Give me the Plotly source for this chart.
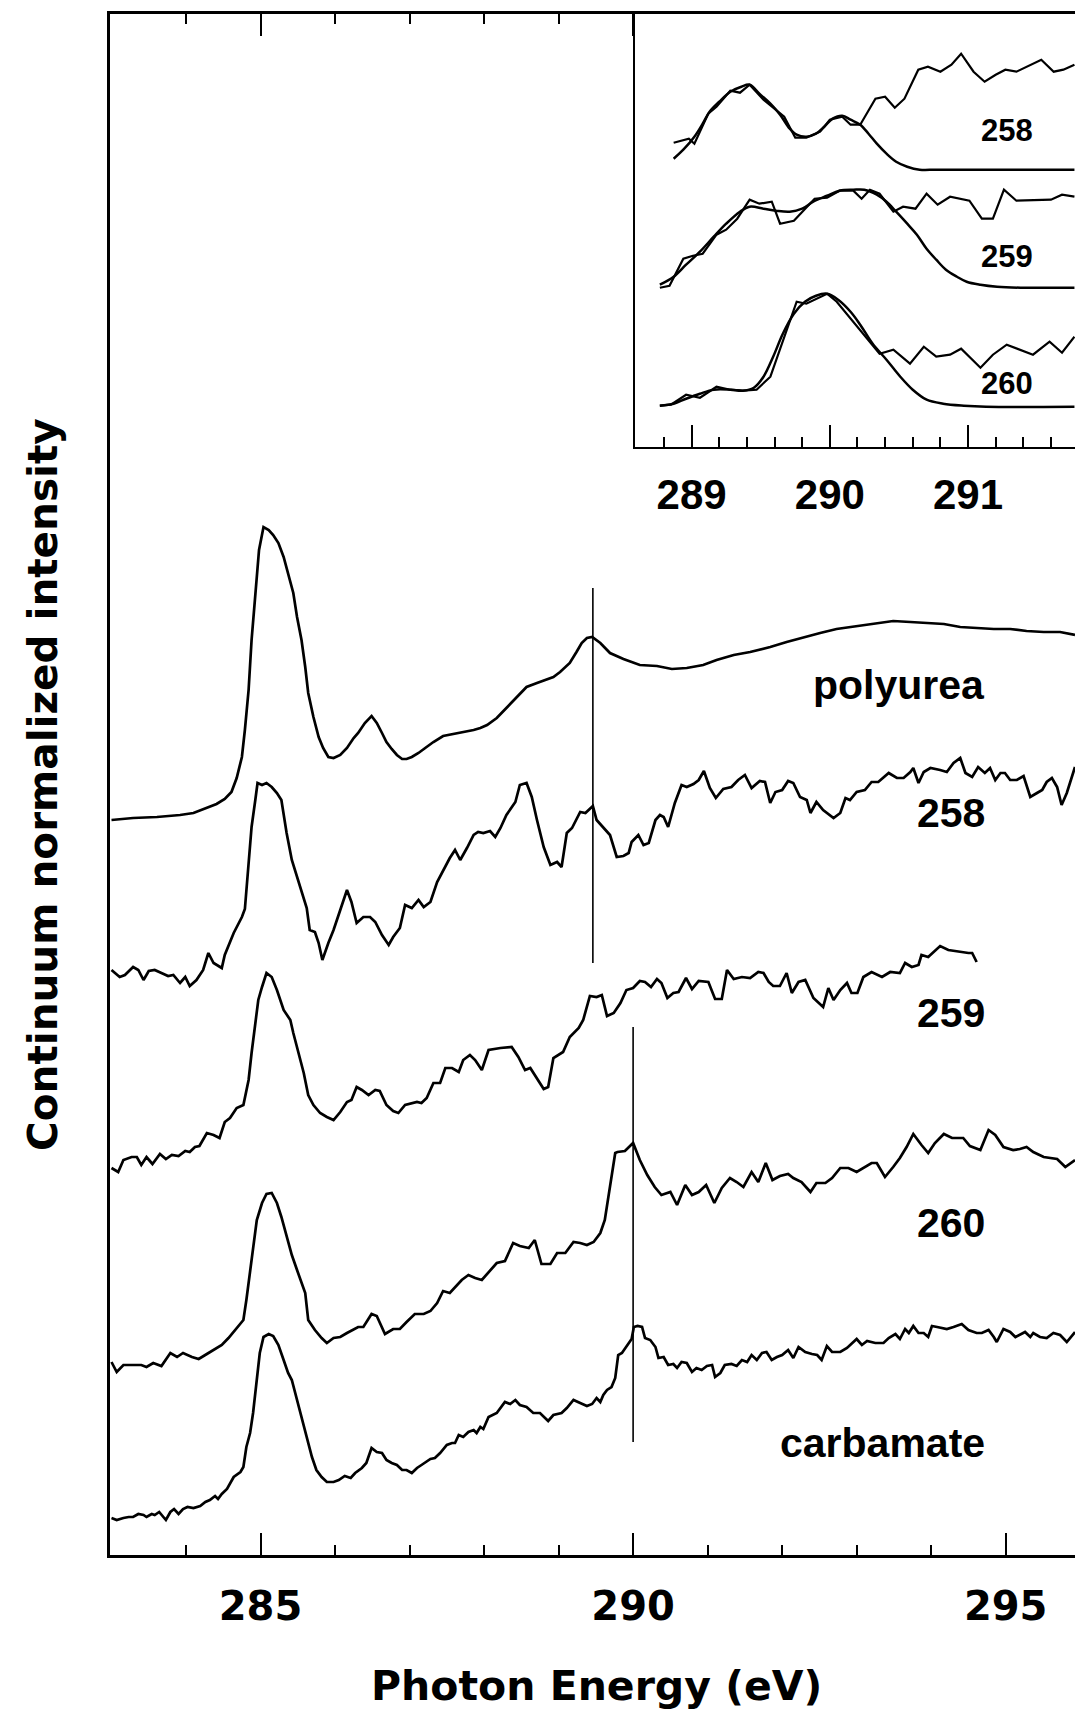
import plotly.graph_objects as go

# ---------------- main panel data (photon energy in eV, offset intensity) ----------------
polyurea_E = [283.00, 283.29, 283.61, 283.92, 284.10, 284.28, 284.41, 284.52, 284.61, 284.68,
              284.75, 284.79, 284.84, 284.88, 284.91, 284.95, 284.98, 285.04, 285.11, 285.17,
              285.24, 285.31, 285.37, 285.44, 285.49, 285.55, 285.60, 285.64, 285.71, 285.78,
              285.84, 285.91, 285.98, 286.07, 286.16, 286.25, 286.31, 286.40, 286.49, 286.56,
              286.63, 286.69, 286.76, 286.83, 286.90, 286.96, 287.03, 287.12, 287.21, 287.32,
              287.45, 287.59, 287.72, 287.86, 287.95, 288.04, 288.17, 288.30, 288.44, 288.57,
              288.71, 288.84, 288.93, 289.02, 289.15, 289.24, 289.31, 289.38, 289.45, 289.56,
              289.69, 289.87, 290.09, 290.32, 290.52, 290.72, 290.94, 291.12, 291.35, 291.57,
              291.84, 292.06, 292.29, 292.51, 292.73, 292.91, 293.14, 293.32, 293.49, 293.72,
              293.94, 294.17, 294.39, 294.61, 294.84, 295.06, 295.28, 295.51, 295.73, 295.93]
polyurea_I = [7.35, 7.37, 7.38, 7.40, 7.42, 7.47, 7.51, 7.56, 7.63, 7.77,
              7.98, 8.25, 8.65, 9.15, 9.45, 9.85, 10.05, 10.28, 10.25, 10.20,
              10.12, 9.98, 9.82, 9.62, 9.38, 9.15, 8.88, 8.62, 8.38, 8.18,
              8.07, 7.98, 7.97, 8.00, 8.07, 8.17, 8.22, 8.32, 8.39, 8.32,
              8.22, 8.13, 8.06, 8.00, 7.96, 7.96, 7.98, 8.02, 8.07, 8.13,
              8.19, 8.21, 8.23, 8.25, 8.27, 8.30, 8.37, 8.47, 8.58, 8.68,
              8.72, 8.76, 8.78, 8.83, 8.92, 9.03, 9.12, 9.17, 9.18, 9.12,
              9.02, 8.96, 8.90, 8.89, 8.86, 8.87, 8.90, 8.95, 9.00, 9.03,
              9.08, 9.13, 9.18, 9.22, 9.26, 9.28, 9.30, 9.32, 9.34, 9.33,
              9.32, 9.31, 9.28, 9.27, 9.26, 9.26, 9.24, 9.23, 9.23, 9.20]

s258_E = [283.00, 283.11, 283.18, 283.29, 283.36, 283.43, 283.50, 283.58, 283.67, 283.76,
          283.83, 283.92, 283.99, 284.05, 284.14, 284.23, 284.30, 284.37, 284.48, 284.52,
          284.64, 284.75, 284.79, 284.84, 284.88, 284.93, 284.96, 285.02, 285.08, 285.15,
          285.22, 285.28, 285.35, 285.42, 285.49, 285.55, 285.62, 285.66, 285.73, 285.78,
          285.83, 285.91, 285.98, 286.07, 286.16, 286.22, 286.29, 286.38, 286.47, 286.54,
          286.63, 286.72, 286.78, 286.87, 286.94, 287.03, 287.12, 287.19, 287.28, 287.37,
          287.45, 287.54, 287.61, 287.68, 287.77, 287.86, 287.92, 287.99, 288.08, 288.15,
          288.22, 288.30, 288.42, 288.48, 288.57, 288.64, 288.71, 288.80, 288.89, 288.98,
          289.04, 289.11, 289.18, 289.29, 289.36, 289.42, 289.46,
          289.51, 289.60, 289.69, 289.78, 289.87, 289.94, 289.98, 290.07, 290.14, 290.21,
          290.30, 290.36, 290.41, 290.47, 290.56, 290.65, 290.72, 290.81, 290.88, 290.95,
          291.03, 291.11, 291.21, 291.32, 291.41, 291.50, 291.59, 291.70, 291.77, 291.84,
          291.91, 292.00, 292.08, 292.15, 292.24, 292.33, 292.38, 292.46, 292.55, 292.69,
          292.78, 292.85, 292.91, 293.00, 293.11, 293.20, 293.29, 293.43, 293.54, 293.63,
          293.72, 293.76, 293.83, 293.90, 293.99, 294.12, 294.21, 294.30, 294.39, 294.46,
          294.55, 294.63, 294.72, 294.79, 294.86, 294.93, 294.99, 295.06, 295.15, 295.24,
          295.33, 295.42, 295.49, 295.55, 295.62, 295.69, 295.75, 295.82, 295.93]
s258_I = [5.85, 5.78, 5.80, 5.88, 5.85, 5.75, 5.84, 5.85, 5.82, 5.79,
          5.80, 5.72, 5.78, 5.69, 5.75, 5.85, 6.02, 5.92, 5.87, 6.00,
          6.22, 6.38, 6.46, 6.88, 7.28, 7.55, 7.72, 7.70, 7.72, 7.68,
          7.62, 7.55, 7.22, 6.95, 6.78, 6.65, 6.47, 6.25, 6.23, 6.12,
          5.95, 6.12, 6.25, 6.45, 6.65, 6.53, 6.32, 6.38, 6.38, 6.33,
          6.20, 6.10, 6.18, 6.27, 6.50, 6.47, 6.55, 6.48, 6.53, 6.73,
          6.85, 6.97, 7.05, 6.95, 7.07, 7.20, 7.23, 7.22, 7.24, 7.18,
          7.27, 7.40, 7.53, 7.70, 7.72, 7.58, 7.35, 7.08, 6.90, 6.93,
          6.88, 7.22, 7.27, 7.43, 7.42, 7.46, 7.49,
          7.35, 7.27, 7.20, 6.98, 6.99, 7.02, 7.13, 7.20, 7.10, 7.12,
          7.35, 7.40, 7.38, 7.28, 7.52, 7.70, 7.68, 7.71, 7.75, 7.84,
          7.67, 7.57, 7.66, 7.68, 7.75, 7.80, 7.67, 7.74, 7.73, 7.52,
          7.63, 7.65, 7.74, 7.72, 7.58, 7.55, 7.42, 7.53, 7.45, 7.37,
          7.42, 7.57, 7.55, 7.63, 7.65, 7.73, 7.73, 7.82, 7.77, 7.77,
          7.83, 7.87, 7.72, 7.83, 7.87, 7.85, 7.83, 7.92, 7.97, 7.82,
          7.78, 7.88, 7.82, 7.87, 7.75, 7.82, 7.82, 7.75, 7.75, 7.79,
          7.58, 7.62, 7.65, 7.73, 7.77, 7.68, 7.50, 7.62, 7.88]

s259_E = [283.00, 283.09, 283.16, 283.27, 283.34, 283.40, 283.47, 283.55, 283.65, 283.73,
          283.81, 283.90, 283.99, 284.05, 284.12, 284.18, 284.28, 284.37, 284.45, 284.52,
          284.59, 284.68, 284.77, 284.84, 284.88, 284.93, 284.97, 285.02, 285.08, 285.15,
          285.22, 285.31, 285.40, 285.44, 285.51, 285.58, 285.64, 285.71, 285.80, 285.89,
          285.98, 286.07, 286.16, 286.22, 286.29, 286.36, 286.45, 286.54, 286.60, 286.69,
          286.78, 286.85, 286.94, 287.03, 287.10, 287.16, 287.23, 287.32, 287.41, 287.48,
          287.57, 287.66, 287.72, 287.81, 287.88, 287.97, 288.06, 288.22, 288.37, 288.46,
          288.55, 288.62, 288.71, 288.80, 288.86, 288.93, 289.06, 289.15, 289.27, 289.33,
          289.42, 289.51, 289.58, 289.65, 289.74, 289.83,
          289.91, 290.00, 290.09, 290.16, 290.24, 290.32, 290.38, 290.46, 290.54, 290.61,
          290.71, 290.79, 290.88, 291.01, 291.10, 291.19, 291.26, 291.35, 291.46, 291.57,
          291.68, 291.75, 291.82, 291.88, 291.97, 292.06, 292.13, 292.22, 292.31, 292.42,
          292.55, 292.62, 292.69, 292.78, 292.87, 292.93, 293.01, 293.09, 293.20, 293.34,
          293.45, 293.58, 293.65, 293.74, 293.83, 293.87, 293.96, 294.12, 294.23, 294.39,
          294.50, 294.55, 294.61]
s259_I = [3.87, 3.83, 3.95, 3.98, 3.98, 3.90, 3.98, 3.91, 4.01, 3.96,
          4.00, 3.99, 4.04, 4.03, 4.08, 4.09, 4.22, 4.20, 4.17, 4.33,
          4.37, 4.47, 4.50, 4.75, 5.02, 5.32, 5.55, 5.68, 5.82, 5.78,
          5.65, 5.45, 5.35, 5.22, 5.02, 4.82, 4.60, 4.50, 4.42, 4.38,
          4.35, 4.43, 4.53, 4.55, 4.68, 4.65, 4.60, 4.65, 4.64, 4.50,
          4.44, 4.42, 4.50, 4.52, 4.53, 4.52, 4.57, 4.72, 4.72, 4.87,
          4.87, 4.83, 4.95, 5.00, 4.95, 4.85, 5.05, 5.07, 5.08, 4.98,
          4.85, 4.87, 4.77, 4.66, 4.68, 4.97, 5.03, 5.18, 5.27, 5.35,
          5.59, 5.58, 5.60, 5.39, 5.42, 5.52,
          5.65, 5.67, 5.74, 5.73, 5.68, 5.76, 5.72, 5.57, 5.62, 5.63,
          5.77, 5.66, 5.74, 5.73, 5.56, 5.56, 5.85, 5.76, 5.78, 5.77,
          5.83, 5.82, 5.73, 5.69, 5.69, 5.82, 5.62, 5.73, 5.75, 5.57,
          5.48, 5.67, 5.55, 5.65, 5.72, 5.62, 5.62, 5.78, 5.83, 5.78,
          5.83, 5.82, 5.92, 5.88, 5.90, 6.00, 5.98, 6.09, 6.05, 6.03,
          6.02, 6.02, 5.93]

s260_E = [283.00, 283.07, 283.16, 283.29, 283.40, 283.47, 283.56, 283.67, 283.79, 283.88,
          283.96, 284.08, 284.17, 284.28, 284.39, 284.48, 284.57, 284.66, 284.77, 284.81,
          284.86, 284.90, 284.95, 285.02, 285.08, 285.15, 285.22, 285.28, 285.35, 285.42,
          285.49, 285.55, 285.60, 285.64, 285.73, 285.82, 285.89, 285.98, 286.07, 286.16,
          286.25, 286.31, 286.38, 286.42, 286.49, 286.56, 286.67, 286.78, 286.87, 286.96,
          287.07, 287.19, 287.28, 287.37, 287.45, 287.54, 287.61, 287.70, 287.79, 287.88,
          287.97, 288.06, 288.17, 288.28, 288.39, 288.48, 288.60, 288.68, 288.77, 288.89,
          288.98, 289.09, 289.20, 289.29, 289.38, 289.47, 289.56, 289.62, 289.69, 289.76,
          289.79, 289.89, 290.00, 290.09, 290.19, 290.29, 290.38, 290.50, 290.59, 290.70,
          290.79, 290.88, 290.98, 291.09, 291.19, 291.30, 291.39, 291.48, 291.59, 291.68,
          291.78, 291.87, 291.97, 292.08, 292.15, 292.26, 292.38, 292.46, 292.58, 292.67,
          292.78, 292.89, 293.00, 293.11, 293.20, 293.27, 293.38, 293.49, 293.58, 293.67,
          293.76, 293.87, 293.96, 294.05, 294.17, 294.28, 294.43, 294.52, 294.66, 294.77,
          294.86, 294.97, 295.10, 295.19, 295.28, 295.37, 295.51, 295.69, 295.80, 295.93]
s260_I = [1.93, 1.83, 1.90, 1.90, 1.90, 1.88, 1.92, 1.89, 2.02, 1.98,
          2.02, 1.98, 1.96, 2.01, 2.06, 2.10, 2.17, 2.25, 2.35, 2.55,
          2.82, 3.08, 3.35, 3.52, 3.61, 3.62, 3.52, 3.38, 3.18, 3.00,
          2.85, 2.72, 2.62, 2.35, 2.25, 2.17, 2.12, 2.17, 2.18, 2.22,
          2.26, 2.28, 2.28, 2.33, 2.41, 2.39, 2.21, 2.26, 2.26, 2.33,
          2.41, 2.41, 2.44, 2.52, 2.64, 2.62, 2.68, 2.75, 2.80, 2.77,
          2.75, 2.83, 2.92, 2.94, 3.12, 3.09, 3.07, 3.15, 2.91, 2.91,
          3.02, 3.02, 3.13, 3.12, 3.10, 3.13, 3.22, 3.35, 3.68, 4.02,
          4.03, 4.04, 4.12, 3.95, 3.80, 3.68, 3.60, 3.63, 3.50, 3.70,
          3.60, 3.63, 3.70, 3.52, 3.67, 3.77, 3.73, 3.68, 3.83, 3.73,
          3.92, 3.75, 3.79, 3.81, 3.77, 3.73, 3.63, 3.72, 3.72, 3.77,
          3.87, 3.87, 3.83, 3.88, 3.92, 3.92, 3.78, 3.88, 3.97, 4.08,
          4.21, 4.10, 4.02, 4.12, 4.21, 4.17, 4.17, 4.09, 4.05, 4.25,
          4.20, 4.08, 4.05, 4.06, 4.08, 4.03, 3.98, 3.96, 3.88, 3.95]

carbamate_E = [283.00, 283.07, 283.16, 283.23, 283.29, 283.36, 283.43, 283.47, 283.54, 283.58,
               283.64, 283.70, 283.73, 283.79, 283.84, 283.90, 283.96, 284.02, 284.10, 284.19,
               284.26, 284.32, 284.39, 284.43, 284.48, 284.55, 284.59, 284.64, 284.73, 284.77,
               284.81, 284.86, 284.90, 284.95, 284.99, 285.04, 285.11, 285.17, 285.24, 285.31,
               285.37, 285.42, 285.49, 285.55, 285.62, 285.69, 285.75, 285.82, 285.89, 285.98,
               286.05, 286.13, 286.21, 286.27, 286.36, 286.42, 286.49, 286.56, 286.63, 286.69,
               286.76, 286.83, 286.90, 286.96, 287.03, 287.10, 287.16, 287.28, 287.34, 287.41,
               287.50, 287.57, 287.61, 287.66, 287.72, 287.79, 287.86, 287.90, 287.95, 287.99,
               288.06, 288.17, 288.28, 288.35, 288.42, 288.48, 288.57, 288.66, 288.75, 288.86,
               288.93, 289.04, 289.11, 289.20, 289.29, 289.38, 289.45, 289.51, 289.56, 289.60,
               289.65, 289.71, 289.76,
               289.80, 289.85, 289.91, 289.98, 290.01, 290.06, 290.12, 290.16, 290.23, 290.30,
               290.34, 290.41, 290.47, 290.54, 290.59, 290.65, 290.72, 290.79, 290.85, 290.92,
               290.99, 291.06, 291.10, 291.17, 291.23, 291.32, 291.39, 291.46, 291.53, 291.59,
               291.66, 291.73, 291.79, 291.86, 291.93, 292.00, 292.08, 292.15, 292.22, 292.31,
               292.40, 292.47, 292.53, 292.60, 292.67, 292.78, 292.87, 292.93, 293.00, 293.07,
               293.14, 293.25, 293.36, 293.43, 293.52, 293.58, 293.65, 293.70, 293.76, 293.83,
               293.90, 293.96, 294.01, 294.08, 294.21, 294.30, 294.41, 294.50, 294.61, 294.68,
               294.77, 294.84, 294.88, 294.97, 295.06, 295.13, 295.19, 295.26, 295.33, 295.37,
               295.46, 295.55, 295.64, 295.73, 295.82, 295.93]
carbamate_I = [0.37, 0.35, 0.37, 0.38, 0.38, 0.41, 0.40, 0.38, 0.41, 0.40,
               0.43, 0.38, 0.35, 0.43, 0.46, 0.41, 0.46, 0.48, 0.47, 0.49,
               0.53, 0.55, 0.59, 0.56, 0.61, 0.66, 0.72, 0.78, 0.83, 0.88,
               1.08, 1.22, 1.42, 1.72, 2.02, 2.18, 2.21, 2.19, 2.10, 1.95,
               1.82, 1.75, 1.55, 1.38, 1.18, 0.98, 0.85, 0.78, 0.73, 0.73,
               0.75, 0.79, 0.77, 0.82, 0.87, 0.92, 1.07, 1.03, 1.02, 0.95,
               0.92, 0.90, 0.85, 0.85, 0.82, 0.87, 0.90, 0.96, 0.97, 1.02,
               1.10, 1.12, 1.12, 1.20, 1.18, 1.23, 1.25, 1.22, 1.28, 1.26,
               1.38, 1.42, 1.53, 1.51, 1.55, 1.50, 1.48, 1.42, 1.42, 1.34,
               1.40, 1.42, 1.47, 1.55, 1.52, 1.49, 1.51, 1.57, 1.53, 1.60,
               1.65, 1.68, 1.77,
               2.00, 2.02, 2.09, 2.16, 2.28, 2.29, 2.28, 2.17, 2.15, 2.08,
               1.97, 1.98, 1.90, 1.91, 1.87, 1.93, 1.92, 1.83, 1.87, 1.85,
               1.89, 1.90, 1.78, 1.82, 1.90, 1.91, 1.89, 1.95, 1.93, 2.00,
               1.95, 2.02, 2.03, 1.95, 1.98, 2.00, 2.05, 1.97, 2.08, 2.03,
               2.01, 2.00, 1.95, 2.09, 2.03, 2.03, 2.07, 2.11, 2.16, 2.10,
               2.14, 2.12, 2.12, 2.17, 2.21, 2.16, 2.26, 2.22, 2.29, 2.22,
               2.22, 2.18, 2.29, 2.28, 2.26, 2.28, 2.31, 2.25, 2.22, 2.22,
               2.25, 2.18, 2.13, 2.26, 2.23, 2.18, 2.20, 2.23, 2.18, 2.22,
               2.18, 2.17, 2.22, 2.20, 2.13, 2.23]

# marker lines (energy, lower and upper intensity)
marker_E = [289.46, 290.00]
marker_lo = [5.92, 1.13]
marker_hi = [9.67, 5.28]

main_labels = ["polyurea", "258", "259", "260", "carbamate"]
main_label_I = [8.70, 7.42, 5.42, 3.32, 1.12]

main_tick_vals = [285, 290, 295]
main_tick_text = ["285", "290", "295"]
main_minor_vals = [284, 286, 287, 288, 289, 291, 292, 293, 294]

# ---------------- inset data ----------------
in258_E = [288.87, 288.98, 289.02, 289.12, 289.18, 289.28, 289.35, 289.42, 289.52, 289.61,
           289.67, 289.75, 289.83, 289.93, 290.00, 290.09, 290.15, 290.22, 290.33, 290.40,
           290.47, 290.54, 290.64, 290.71, 290.80, 290.88, 290.95, 291.04, 291.12, 291.20,
           291.27, 291.35, 291.45, 291.53, 291.62, 291.69, 291.77]
in258_I = [3.04, 3.08, 3.03, 3.33, 3.40, 3.56, 3.54, 3.62, 3.47, 3.37,
           3.30, 3.09, 3.09, 3.15, 3.27, 3.30, 3.22, 3.22, 3.48, 3.50,
           3.39, 3.48, 3.77, 3.80, 3.75, 3.82, 3.93, 3.75, 3.65, 3.72,
           3.77, 3.75, 3.82, 3.87, 3.75, 3.77, 3.82]
fit258_E = [288.87, 288.94, 289.02, 289.08, 289.13, 289.20, 289.28, 289.36, 289.42, 289.49,
            289.57, 289.64, 289.71, 289.76, 289.83, 289.90, 289.96, 290.02, 290.09, 290.15,
            290.22, 290.28, 290.34, 290.41, 290.48, 290.56, 290.65, 290.77, 291.01, 291.38, 291.77]
fit258_I = [2.88, 2.97, 3.10, 3.23, 3.35, 3.45, 3.55, 3.60, 3.62, 3.53,
            3.43, 3.32, 3.18, 3.12, 3.10, 3.13, 3.20, 3.28, 3.31, 3.27,
            3.22, 3.13, 3.03, 2.93, 2.85, 2.80, 2.77, 2.77, 2.77, 2.77, 2.77]

in259_E = [288.77, 288.84, 288.94, 289.01, 289.08, 289.18, 289.25, 289.33, 289.42, 289.49,
           289.58, 289.64, 289.74, 289.80, 289.89, 289.98, 290.07, 290.17, 290.23, 290.29,
           290.36, 290.46, 290.53, 290.62, 290.70, 290.78, 290.87, 291.01, 291.10, 291.18,
           291.26, 291.35, 291.50, 291.60, 291.68, 291.77]
in259_I = [1.59, 1.61, 1.88, 1.91, 1.93, 2.12, 2.17, 2.28, 2.47, 2.43,
           2.45, 2.23, 2.26, 2.35, 2.48, 2.49, 2.56, 2.56, 2.48, 2.57,
           2.53, 2.35, 2.40, 2.38, 2.53, 2.42, 2.50, 2.46, 2.28, 2.28,
           2.57, 2.46, 2.47, 2.47, 2.52, 2.50]
fit259_E = [288.77, 288.87, 288.96, 289.06, 289.16, 289.25, 289.35, 289.42, 289.52, 289.61,
            289.71, 289.80, 289.88, 289.98, 290.07, 290.17, 290.25, 290.34, 290.41, 290.48,
            290.56, 290.63, 290.70, 290.77, 290.84, 290.92, 290.99, 291.09, 291.21, 291.38, 291.77]
fit259_I = [1.62, 1.70, 1.82, 1.95, 2.10, 2.23, 2.35, 2.40, 2.38, 2.36,
            2.35, 2.38, 2.45, 2.51, 2.56, 2.57, 2.57, 2.52, 2.45, 2.35,
            2.23, 2.12, 1.98, 1.87, 1.77, 1.70, 1.65, 1.62, 1.60, 1.59, 1.59]

in260_E = [288.77, 288.85, 288.96, 289.06, 289.18, 289.28, 289.37, 289.47, 289.57, 289.66,
           289.76, 289.83, 289.90, 289.98, 290.05, 290.15, 290.22, 290.36, 290.46, 290.58,
           290.68, 290.77, 290.87, 290.95, 291.09, 291.18, 291.28, 291.38, 291.47, 291.59,
           291.68, 291.77]
in260_I = [0.41, 0.42, 0.52, 0.49, 0.60, 0.57, 0.56, 0.57, 0.70, 1.05,
           1.45, 1.43, 1.48, 1.53, 1.45, 1.28, 1.17, 0.93, 0.97, 0.83,
           1.00, 0.90, 0.92, 0.98, 0.79, 0.92, 1.02, 0.97, 0.92, 1.05,
           0.94, 1.10]
fit260_E = [288.77, 288.87, 288.96, 289.06, 289.16, 289.28, 289.37, 289.45, 289.52, 289.59,
            289.66, 289.74, 289.82, 289.90, 289.98, 290.06, 290.15, 290.22, 290.31, 290.41,
            290.51, 290.60, 290.70, 290.82, 290.97, 291.13, 291.77]
fit260_I = [0.41, 0.43, 0.48, 0.53, 0.57, 0.57, 0.56, 0.59, 0.70, 0.90,
            1.13, 1.33, 1.45, 1.51, 1.53, 1.47, 1.35, 1.22, 1.03, 0.87,
            0.70, 0.57, 0.47, 0.43, 0.41, 0.40, 0.40]

inset_labels = ["258", "259", "260"]
inset_label_I = [3.16, 1.90, 0.63]
inset_tick_vals = [289, 290, 291]
inset_tick_text = ["289", "290", "291"]
inset_minor_vals = [288.8, 289.2, 289.4, 289.6, 289.8, 290.2, 290.4, 290.6, 290.8,
                    291.2, 291.4, 291.6]

# ---------------- figure ----------------
fig = go.Figure()
main_line = dict(color="black", width=2.7)
for E, I in [(polyurea_E, polyurea_I), (s258_E, s258_I), (s259_E, s259_I),
             (s260_E, s260_I), (carbamate_E, carbamate_I)]:
    fig.add_trace(go.Scatter(x=E, y=I, mode="lines", line=main_line,
                             xaxis="x", yaxis="y", hoverinfo="skip", showlegend=False))

for E, I in [(in258_E, in258_I), (in259_E, in259_I), (in260_E, in260_I)]:
    fig.add_trace(go.Scatter(x=E, y=I, mode="lines", line=dict(color="black", width=2.2),
                             xaxis="x2", yaxis="y2", hoverinfo="skip", showlegend=False))
for E, I in [(fit258_E, fit258_I), (fit259_E, fit259_I), (fit260_E, fit260_I)]:
    fig.add_trace(go.Scatter(x=E, y=I, mode="lines", line=dict(color="black", width=2.5, shape="spline"),
                             xaxis="x2", yaxis="y2", hoverinfo="skip", showlegend=False))

for e, lo, hi in zip(marker_E, marker_lo, marker_hi):
    fig.add_shape(type="line", xref="x", yref="y", x0=e, x1=e, y0=lo, y1=hi,
                  line=dict(color="black", width=1.6))

label_font = dict(family="Liberation Sans, Arial, sans-serif", size=41, color="black", weight="bold")
for txt, yv in zip(main_labels, main_label_I):
    fig.add_annotation(text=txt, x=294.75, y=yv, xref="x", yref="y", xanchor="right",
                       yanchor="middle", showarrow=False, font=label_font)

inset_font = dict(family="Liberation Sans, Arial, sans-serif", size=31, color="black", weight="bold")
for txt, yv in zip(inset_labels, inset_label_I):
    fig.add_annotation(text=txt, x=291.484, y=yv, xref="x2", yref="y2", xanchor="right",
                       yanchor="middle", showarrow=False, font=inset_font)

fig.add_annotation(text="Photon Energy (eV)", x=289.51, y=-0.085, xref="x", yref="paper",
                   xanchor="center", yanchor="middle", showarrow=False,
                   font=dict(family="DejaVu Sans, sans-serif", size=41, color="black", weight="bold"))
fig.add_annotation(text="Continuum normalized intensity", x=-0.070, y=0.500, xref="paper",
                   yref="paper", xanchor="center", yanchor="middle", textangle=-90,
                   showarrow=False,
                   font=dict(family="DejaVu Sans, sans-serif", size=40.5, color="black", weight="bold"))

fig.update_layout(
    width=1075, height=1714,
    margin=dict(l=110, r=0, t=14, b=159, pad=0),
    paper_bgcolor="white", plot_bgcolor="white", showlegend=False,
    xaxis=dict(domain=[0, 1], range=[282.98, 295.93], showgrid=False, zeroline=False,
               showline=True, linecolor="black", linewidth=2.5, mirror="ticks",
               ticks="inside", ticklen=22, tickwidth=2, tickcolor="black",
               tickmode="array", tickvals=main_tick_vals, ticktext=main_tick_text,
               tickfont=dict(family="DejaVu Sans, sans-serif", size=40, color="black", weight="bold"),
               ticklabelstandoff=14,
               minor=dict(tickmode="array", tickvals=main_minor_vals, ticks="inside", ticklen=10,
                          tickwidth=2, tickcolor="black", showgrid=False)),
    yaxis=dict(domain=[0, 1], range=[0, 15.41], showgrid=False, zeroline=False,
               showline=True, linecolor="black", linewidth=2.5, ticks="", showticklabels=False),
    xaxis2=dict(domain=[0.544, 1], anchor="y2", range=[288.59, 291.774], showgrid=False,
                zeroline=False, showline=True, linecolor="black", linewidth=2.2,
                ticks="inside", ticklen=22, tickwidth=2, tickcolor="black",
                tickmode="array", tickvals=inset_tick_vals, ticktext=inset_tick_text,
                tickfont=dict(family="Liberation Sans, Arial, sans-serif", size=42, color="black", weight="bold"),
                ticklabelstandoff=10,
                minor=dict(tickmode="array", tickvals=inset_minor_vals, ticks="inside", ticklen=10,
                           tickwidth=2, tickcolor="black", showgrid=False)),
    yaxis2=dict(domain=[0.7192, 1], anchor="x2", range=[0, 4.327], showgrid=False,
                zeroline=False, showline=True, linecolor="black", linewidth=2.2,
                ticks="", showticklabels=False),
)

fig.write_html("out.html")
